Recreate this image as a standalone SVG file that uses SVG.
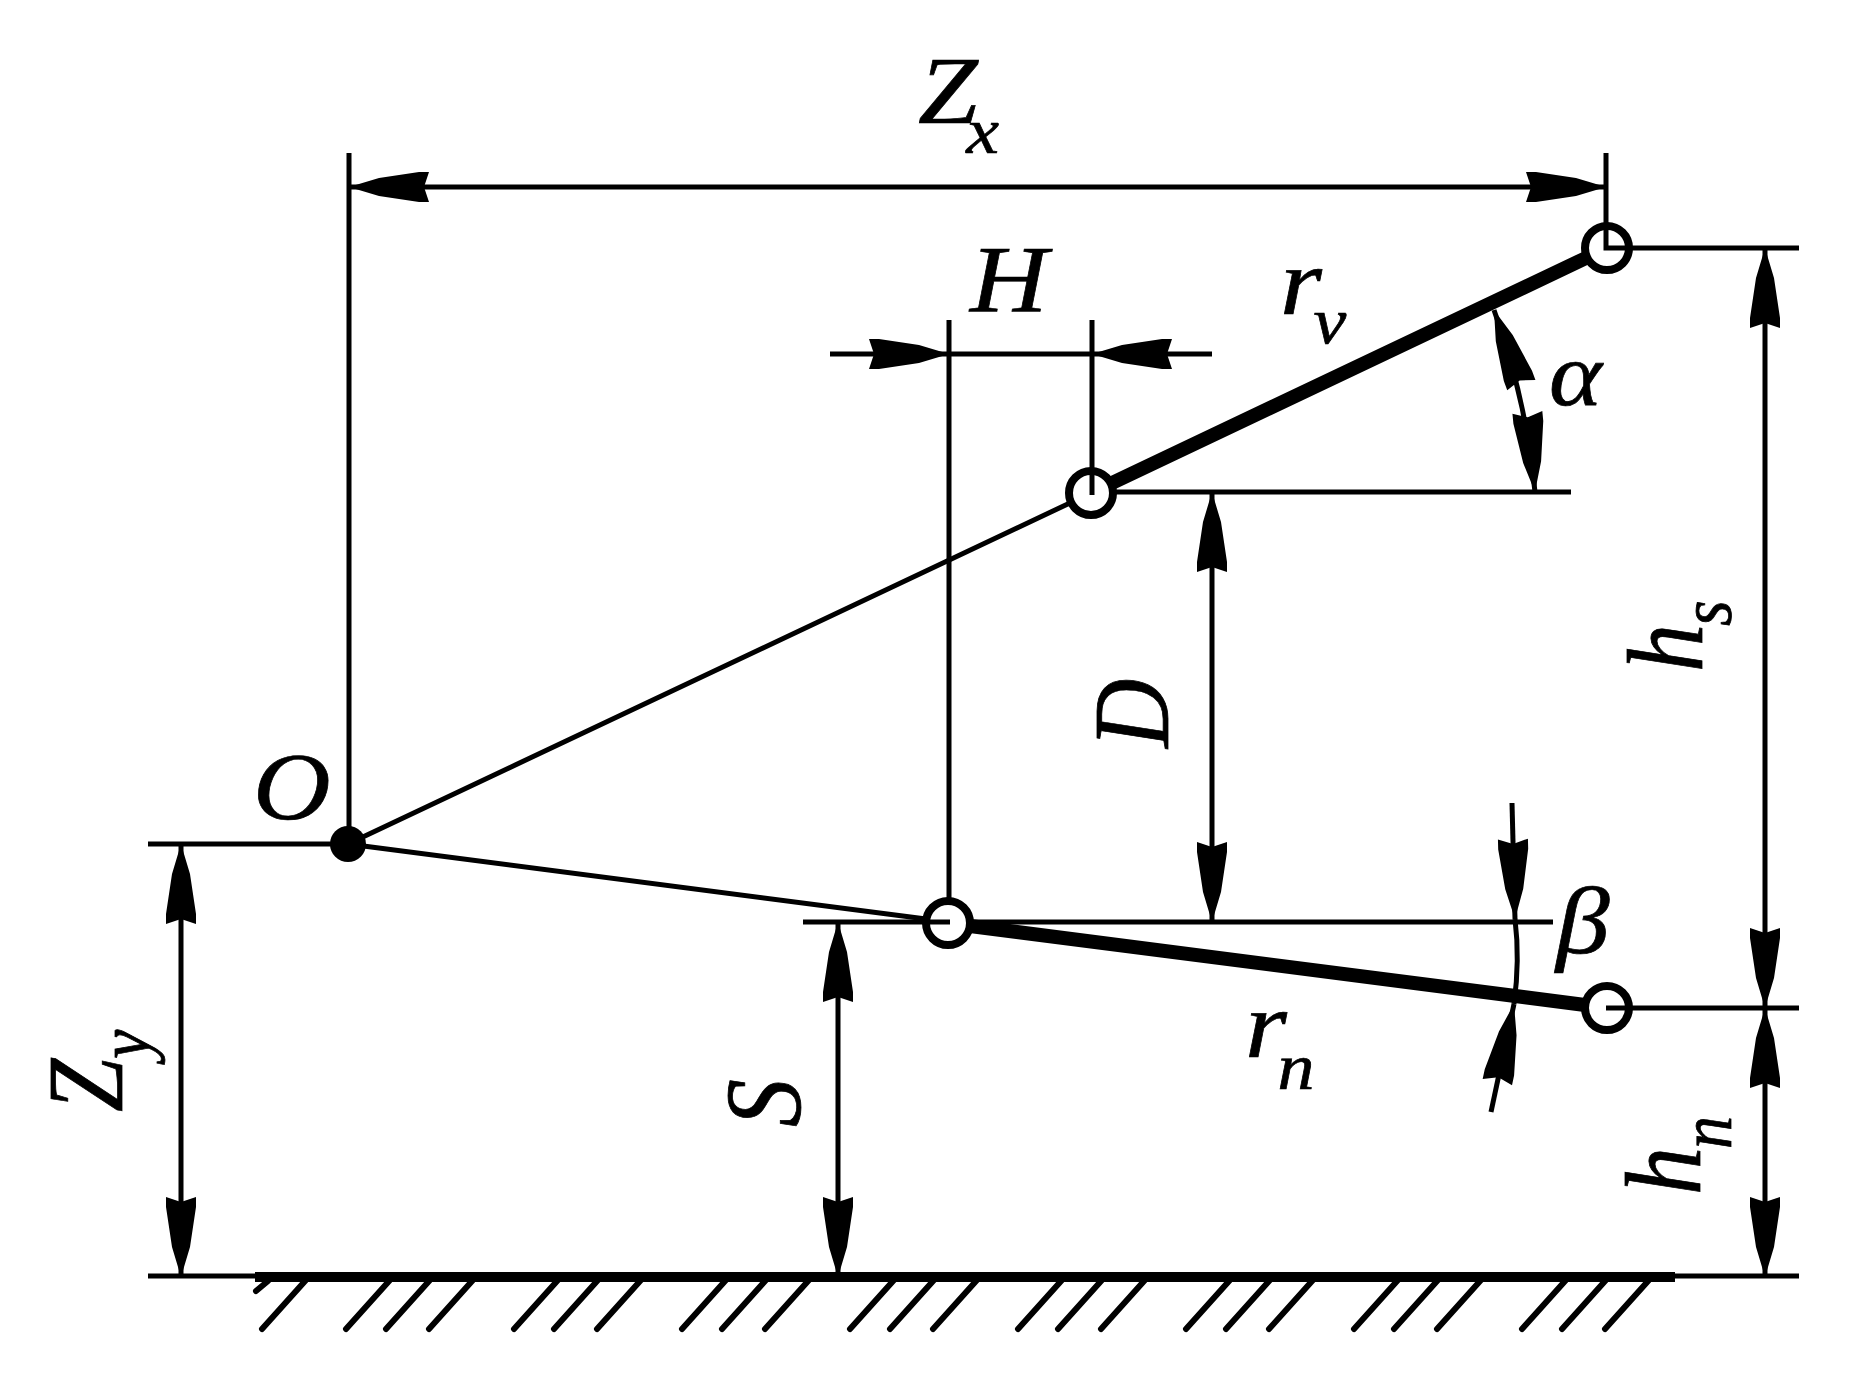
<svg xmlns="http://www.w3.org/2000/svg" width="1856" height="1389" viewBox="0 0 1856 1389">
<style>
.l{fill:none;stroke:#000;stroke-width:5;stroke-linecap:butt}
.h{fill:none;stroke:#000;stroke-width:6;stroke-linecap:round}
.b{fill:none;stroke:#000;stroke-width:14}
.d{marker-start:url(#ah);marker-end:url(#ah)}
.e{marker-end:url(#ah)}
.c{fill:#fff;stroke:#000;stroke-width:8}
text{font-family:"Liberation Serif","Times New Roman",serif;font-style:italic;font-size:96px;fill:#000;stroke:#000;stroke-width:.7}
.s{font-size:66px}
.a{font-size:90px}
</style>
<defs>
<marker id="ah" markerUnits="userSpaceOnUse" markerWidth="80" markerHeight="30" refX="80" refY="15" orient="auto-start-reverse" overflow="visible">
<polygon points="80,15 50,6 10,0 0,0 5,15 0,30 10,30 50,24" fill="#000"/>
</marker>
</defs>
<rect width="1856" height="1389" fill="#fff"/>
<g id="connectors">
<path class="l" d="M349 153V844M1606 153V226M949 320V900M1092 320V471"/>
<path class="l" d="M148 844H348M1630 248H1799M1114 492H1571M803 922H1553M1630 1008H1799"/>
<path class="l" d="M348 844L1072 502M348 844L926 919"/>
<path class="b" d="M1112 483L1586 258M970 926L1585 1005"/>
<path class="l" d="M148 1276H1799"/>
<path fill="none" stroke="#000" stroke-width="10" d="M255 1277H1675"/>
<path class="h" d="M262 1329L306 1280M256 1291L268 1281M346 1329L390 1280M386 1329L430 1280M429 1329L473 1280M514 1329L558 1280M554 1329L598 1280M597 1329L641 1280M682 1329L726 1280M722 1329L766 1280M765 1329L809 1280M850 1329L894 1280M890 1329L934 1280M933 1329L977 1280M1018 1329L1062 1280M1058 1329L1102 1280M1101 1329L1145 1280M1186 1329L1230 1280M1226 1329L1270 1280M1269 1329L1313 1280M1354 1329L1398 1280M1394 1329L1438 1280M1437 1329L1481 1280M1522 1329L1566 1280M1562 1329L1606 1280M1605 1329L1649 1280"/>
<line class="l d" x1="349" y1="187" x2="1606" y2="187"/>
<line class="l e" x1="830" y1="354" x2="949" y2="354"/>
<line class="l e" x1="1212" y1="354" x2="1092" y2="354"/>
<line class="l" x1="949" y1="354" x2="1092" y2="354"/>
<line class="l d" x1="1765" y1="248" x2="1765" y2="1008"/>
<line class="l d" x1="1765" y1="1008" x2="1765" y2="1277"/>
<line class="l d" x1="181" y1="844" x2="181" y2="1277"/>
<line class="l d" x1="838" y1="922" x2="838" y2="1277"/>
<line class="l d" x1="1212" y1="492" x2="1212" y2="922"/>
<path class="l d" d="M1494 310Q1526 398 1535 492"/>
<line class="l e" x1="1512" y1="803" x2="1515" y2="919"/>
<line class="l e" x1="1491" y1="1112" x2="1514" y2="1004"/>
<path class="l" d="M1515 919Q1520 960 1514 1004"/>
</g>
<g id="node-top"><circle class="c" cx="1607" cy="248" r="22"/><path class="l" d="M1606 226V248H1630"/></g>
<g id="node-mid"><circle class="c" cx="1091" cy="493" r="22"/><path class="l" d="M1092 471V495"/></g>
<g id="node-low"><circle class="c" cx="948" cy="923" r="22"/><path class="l" d="M926 922H950"/></g>
<g id="node-end"><circle class="c" cx="1607" cy="1008" r="22"/><path class="l" d="M1630 1008H1606"/></g>
<g id="node-o"><circle cx="348" cy="844" r="18" fill="#000"/></g>
<g id="labels">
<text transform="translate(918,123) scale(1.12,1)">Z<tspan class="s" x="43" y="30">x</tspan></text>
<text transform="translate(970,312) scale(1.12,1)">H</text>
<text transform="translate(1280,314) scale(1.12,1)">r<tspan class="s" x="30" y="29">v</tspan></text>
<text class="a" transform="translate(1549,405) scale(1.12,1)">α</text>
<text transform="translate(253,819) scale(1.12,1)">O</text>
<text transform="translate(1556,953) scale(1.12,1)">β</text>
<text transform="translate(1245,1057) scale(1.12,1)">r<tspan class="s" x="29" y="32">n</tspan></text>
<text transform="translate(1168,748) scale(1.12,1) rotate(-90)">D</text>
<text transform="translate(800,1127) scale(1.12,1) rotate(-90)">S</text>
<text transform="translate(1702,672) scale(1.12,1) rotate(-90)">h<tspan class="s" x="46" y="26">s</tspan></text>
<text transform="translate(1700,1195) scale(1.12,1) rotate(-90)">h<tspan class="s" x="46" y="28">n</tspan></text>
<text transform="translate(122,1112) scale(1.12,1) rotate(-90)">Z<tspan class="s" x="53" y="24">y</tspan></text>
</g>
</svg>
